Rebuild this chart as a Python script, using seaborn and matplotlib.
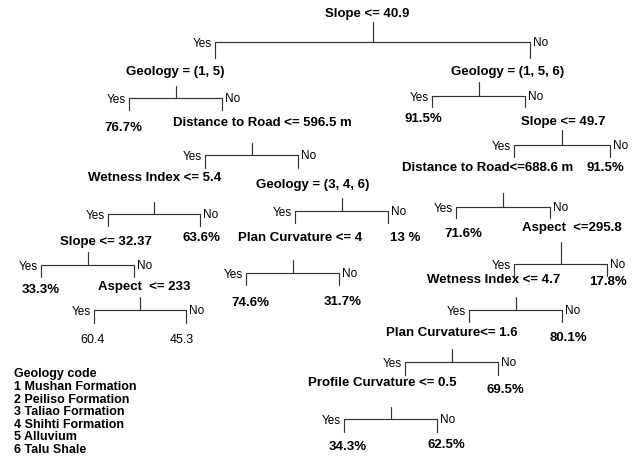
import pandas as pd
import matplotlib
matplotlib.use("Agg")
import matplotlib.pyplot as plt
import seaborn as sns

# split rules, top to bottom
split_labels = [
    "Slope <= 40.9",
    "Geology = (1, 5)",
    "Geology = (1, 5, 6)",
    "Distance to Road <= 596.5 m",
    "Slope <= 49.7",
    "Wetness Index <= 5.4",
    "Geology = (3, 4, 6)",
    "Distance to Road<=688.6 m",
    "Slope <= 32.37",
    "Plan Curvature <= 4",
    "Aspect  <=295.8",
    "Aspect  <= 233",
    "Wetness Index <= 4.7",
    "Plan Curvature<= 1.6",
    "Profile Curvature <= 0.5",
]

# terminal node values
leaf_values = ["76.7%", "91.5%", "91.5%", "63.6%", "13 %", "71.6%", "33.3%",
               "74.6%", "31.7%", "17.8%", "60.4", "45.3", "80.1%", "69.5%",
               "34.3%", "62.5%"]

geology_codes = [
    "1 Mushan Formation",
    "2 Peiliso Formation",
    "3 Taliao Formation",
    "4 Shihti Formation",
    "5 Alluvium",
    "6 Talu Shale",
]

# layout (pixels): label x/y, bar left/right/y, stem top, drop bottom
split_layout = [
    (367, 14, 215, 530, 42, 22, 58),
    (175, 72, 129, 222, 98, 86, 110),
    (508, 72, 432, 525, 96, 82, 107),
    (262, 123, 205, 298, 155, 143, 168),
    (563, 122, 514, 610, 145, 130, 157),
    (155, 178, 108, 200, 214, 202, 226),
    (313, 185, 295, 388, 211, 198, 223),
    (488, 168, 456, 550, 207, 193, 218),
    (106, 242, 41, 134, 265, 252, 277),
    (300, 238, 246, 339, 273, 260, 285),
    (572, 228, 514, 607, 264, 242, 276),
    (144, 287, 94, 186, 310, 297, 323),
    (494, 280, 469, 562, 310, 297, 322),
    (452, 333, 405, 498, 362, 349, 375),
    (382, 383, 344, 437, 419, 407, 432),
]
leaf_pos = [(123, 128), (423, 119), (605, 168), (201, 238), (405, 238),
            (463, 234), (41, 290), (250, 303), (343, 302), (608, 282),
            (93, 340), (182, 340), (568, 338), (505, 390), (348, 447),
            (446, 445)]

sns.set_theme(style="white")
plt.rcParams["font.family"] = ["Liberation Sans", "DejaVu Sans"]

fig = plt.figure(figsize=(6.42, 4.59), dpi=100)
ax = fig.add_axes([0, 0, 1, 1])

# connector segments
rows = []
seg = 0
for lx, ly, xl, xr, by, top, bot in split_layout:
    cx = (xl + xr) / 2
    for x, y in [(cx, top), (cx, by)]:
        rows.append((seg, x, y))
    seg += 1
    for x, y in [(xl, bot), (xl, by), (xr, by), (xr, bot)]:
        rows.append((seg, x, y))
    seg += 1
segs = pd.DataFrame(rows, columns=["seg", "x", "y"])
sns.lineplot(data=segs, x="x", y="y", units="seg", estimator=None, sort=False,
             color="#333333", linewidth=0.85, ax=ax)

for label, (lx, ly, xl, xr, by, top, bot) in zip(split_labels, split_layout):
    ax.text(lx, ly, label, ha="center", va="center", fontsize=9.5,
            fontweight="bold", color="black")
    ax.text(xl - 3, by + 2, "Yes", ha="right", va="center", fontsize=8.5,
            color="black")
    ax.text(xr + 3, by + 1, "No", ha="left", va="center", fontsize=8.5,
            color="black")

for val, (x, y) in zip(leaf_values, leaf_pos):
    bold = "%" in val
    ax.text(x, y, val, ha="center", va="center",
            fontsize=9.5 if bold else 9,
            fontweight="bold" if bold else "normal", color="black")

ax.text(14, 374, "Geology code", ha="left", va="center", fontsize=9,
        fontweight="bold", color="black")
for i, code in enumerate(geology_codes):
    ax.text(14, 387 + i * 12.6, code, ha="left", va="center", fontsize=9,
            fontweight="bold", color="black")

ax.set_xlim(0, 642)
ax.set_ylim(459, 0)
ax.set_axis_off()

fig.savefig("out.png", dpi=100)
